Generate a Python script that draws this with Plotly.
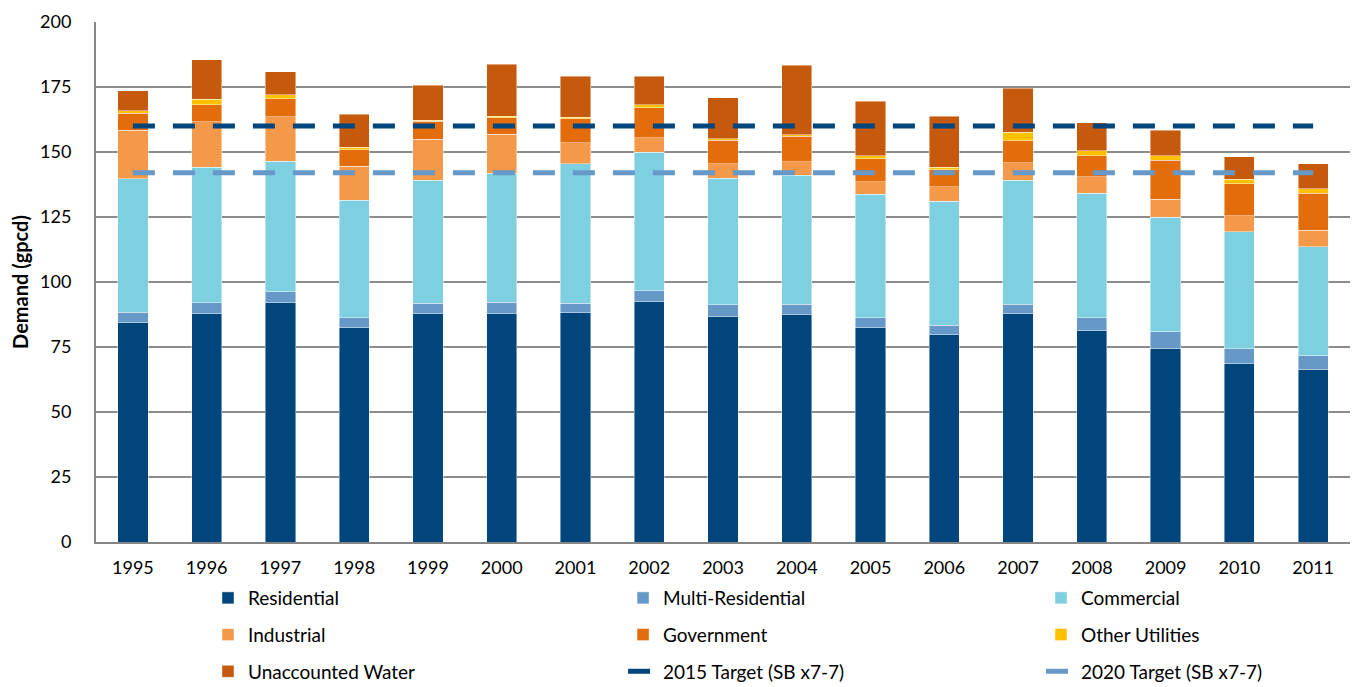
import plotly.graph_objects as go

years = [str(y) for y in range(1995, 2012)]
residential = [84.3, 87.8, 92.0, 82.4, 87.8, 87.8, 88.1, 92.4, 86.8, 87.6, 82.4, 79.7, 87.8, 81.3, 74.5, 68.5, 66.5]
multi_res = [4.0, 4.2, 4.3, 3.9, 4.1, 4.5, 3.8, 4.3, 4.4, 3.9, 3.9, 3.6, 3.6, 5.0, 6.4, 5.9, 5.2]
commercial = [51.4, 52.2, 50.2, 45.1, 47.3, 49.6, 53.5, 53.3, 48.8, 49.5, 47.5, 47.7, 47.7, 47.8, 44.1, 44.9, 41.9]
industrial = [18.6, 17.5, 17.0, 13.2, 15.8, 15.0, 8.1, 5.4, 5.4, 5.2, 4.7, 5.7, 6.7, 6.4, 6.9, 6.1, 6.4]
government = [6.7, 6.5, 7.0, 6.3, 6.8, 6.3, 9.2, 11.6, 9.1, 9.8, 8.9, 6.5, 8.5, 8.0, 15.0, 12.3, 14.2]
other_util = [0.8, 2.1, 1.5, 1.0, 0.5, 0.6, 0.6, 1.1, 0.6, 0.7, 1.2, 1.0, 3.3, 1.9, 1.7, 1.8, 1.6]
unaccounted = [7.7, 15.1, 8.9, 12.6, 13.3, 19.9, 15.8, 11.1, 15.7, 26.6, 21.0, 19.6, 16.9, 10.9, 9.7, 8.7, 9.6]
target_2015 = [160] * len(years)
target_2020 = [142] * len(years)

# legend column: legend (col 1), legend2 (col 2), legend3 (col 3)
bar_series = [
    ("Residential", residential, "#00457C", "legend"),
    ("Multi-Residential", multi_res, "#6699C8", "legend2"),
    ("Commercial", commercial, "#7ED0E0", "legend3"),
    ("Industrial", industrial, "#F4994A", "legend"),
    ("Government", government, "#E36C0B", "legend2"),
    ("Other Utilities", other_util, "#FFC000", "legend3"),
    ("Unaccounted Water", unaccounted, "#C55A0C", "legend"),
]

FONT = "Lato, Carlito, 'Liberation Sans', Arial, sans-serif"

fig = go.Figure()
for name, vals, color, lg in bar_series:
    fig.add_trace(go.Bar(
        x=years, y=vals, name=name, legend=lg, legendgroup=name,
        marker=dict(color=color, line=dict(color="rgba(255,255,255,0.55)", width=0.8)),
    ))

fig.add_trace(go.Scatter(
    x=years, y=target_2015, name="2015 Target (SB x7-7)", mode="lines",
    legend="legend2", legendgroup="t2015",
    line=dict(color="#00457C", width=5, dash="22px,18px"),
))
fig.add_trace(go.Scatter(
    x=years, y=target_2020, name="2020 Target (SB x7-7)", mode="lines",
    legend="legend3", legendgroup="t2020",
    line=dict(color="#6699C8", width=5, dash="22px,18px"),
))

legend_common = dict(
    orientation="v", xanchor="left", yanchor="top", y=-0.0712,
    traceorder="grouped", tracegroupgap=9,
    font=dict(family=FONT, size=19, color="#000000"), bgcolor="rgba(0,0,0,0)",
)

fig.update_layout(
    width=1351, height=679,
    margin=dict(l=88, r=9, t=14, b=145, autoexpand=False),
    barmode="stack", bargap=0.59,
    plot_bgcolor="white", paper_bgcolor="white",
    font=dict(family=FONT, size=19, color="#000000"),
    legend=dict(legend_common, x=0.0893),
    legend2=dict(legend_common, x=0.4203),
    legend3=dict(legend_common, x=0.7536),
    xaxis=dict(
        type="category", showline=True, linecolor="#868686", linewidth=2,
        showgrid=False, ticks="", ticklabelstandoff=8,
        tickfont=dict(family=FONT, size=18),
    ),
    yaxis=dict(
        range=[0, 200], tickvals=[0, 25, 50, 75, 100, 125, 150, 175, 200],
        showline=True, linecolor="#868686", linewidth=2,
        showgrid=True, gridcolor="#8C8C8C", gridwidth=1.5,
        ticks="", zeroline=False, ticklabelstandoff=19,
        tickfont=dict(family=FONT, size=18),
        title=dict(text="<b>Demand (gpcd)</b>", font=dict(family=FONT, size=20), standoff=8),
    ),
)

fig.write_html("out.html")
